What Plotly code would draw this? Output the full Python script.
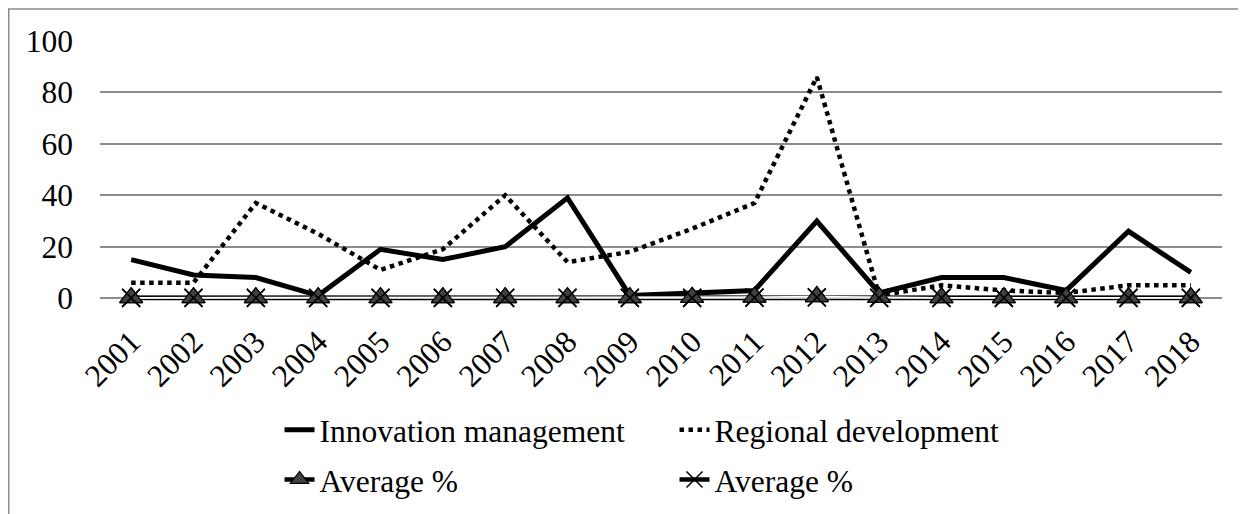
import plotly.graph_objects as go

years = [str(y) for y in range(2001, 2019)]
innovation = [15, 9, 8, 1, 19, 15, 20, 39, 1, 2, 3, 30, 2, 8, 8, 3, 26, 10]
regional = [6, 6, 37, 25, 11, 19, 40, 14, 18, 27, 37, 86, 1, 5, 3, 2, 5, 5]
avg_tri = [0.2, 0.2, 0.2, 0.2, 0.2, 0.2, 0.2, 0.2, 0.2, 0.3, 0.4, 0.6, 0.3, 0.2, 0.2, 0.2, 0.2, 0.2]
avg_x = [0.1, 0.1, 0.1, 0.1, 0.1, 0.1, 0.1, 0.1, 0.1, 0.1, 0.2, 0.3, 0.1, 0.1, 0.1, 0.1, 0.1, 0.1]
y_ticks = [0, 20, 40, 60, 80, 100]

FONT = "Liberation Serif"
FS = 31.5

TRI = dict(symbol="triangle-up", size=20, color="#404040", line=dict(color="black", width=1.2))
XM = dict(symbol="x-thin", size=18, color="black", line=dict(color="black", width=1.5))

fig = go.Figure()

fig.add_trace(go.Scatter(x=years, y=innovation, mode="lines", name="Innovation management",
                         line=dict(color="black", width=5), legend="legend", cliponaxis=False))
fig.add_trace(go.Scatter(x=years, y=regional, mode="lines", name="Regional development",
                         line=dict(color="black", width=4.5, dash="dot"), legend="legend", cliponaxis=False))

# Average % series: black outer line (legend entries)
fig.add_trace(go.Scatter(x=years, y=avg_tri, mode="lines+markers", name="Average %",
                         line=dict(color="black", width=4.5), marker=TRI,
                         legend="legend2", cliponaxis=False))
fig.add_trace(go.Scatter(x=years, y=avg_x, mode="lines+markers", name="Average %",
                         line=dict(color="black", width=4.5), marker=XM,
                         legend="legend2", cliponaxis=False))
# white inner lines (double-line look)
fig.add_trace(go.Scatter(x=years, y=avg_tri, mode="lines", showlegend=False,
                         line=dict(color="white", width=1.5), cliponaxis=False))
fig.add_trace(go.Scatter(x=years, y=avg_x, mode="lines", showlegend=False,
                         line=dict(color="white", width=1.5), cliponaxis=False))
# markers on top
fig.add_trace(go.Scatter(x=years, y=avg_tri, mode="markers", showlegend=False,
                         marker=TRI, cliponaxis=False))
fig.add_trace(go.Scatter(x=years, y=avg_x, mode="markers", showlegend=False,
                         marker=XM, cliponaxis=False))

# page body has an 8px default margin, so the figure is 8px smaller and shifted
W, H = 1238, 506
L, T, R = 92, 33, 24
PH = 261
B = H - T - PH
PW = W - L - R

fig.update_layout(
    width=W, height=H,
    margin=dict(l=L, r=R, t=T, b=B, autoexpand=False),
    paper_bgcolor="white", plot_bgcolor="white",
    font=dict(family=FONT, size=FS, color="black"),
    xaxis=dict(type="category", range=[-0.5, 17.5], tickangle=-45, showgrid=False, zeroline=False,
               showline=False, ticks="", ticklabelstandoff=14, automargin=False,
               tickfont=dict(family=FONT, size=FS)),
    yaxis=dict(range=[-1.5, 100], tickvals=y_ticks, showgrid=True, gridcolor="#8c8c8c",
               gridwidth=1.5, zeroline=True, zerolinecolor="#8c8c8c", zerolinewidth=1.5,
               showline=False, ticks="", ticklabelstandoff=26, automargin=False,
               tickfont=dict(family=FONT, size=FS)),
    legend=dict(orientation="h", x=0.16, xanchor="left", y=-0.49, yanchor="middle",
                entrywidth=350, entrywidthmode="pixels", font=dict(family=FONT, size=FS),
                bgcolor="rgba(0,0,0,0)", itemwidth=30, tracegroupgap=0),
    legend2=dict(orientation="h", x=0.16, xanchor="left", y=-0.68, yanchor="middle",
                 entrywidth=350, entrywidthmode="pixels", font=dict(family=FONT, size=FS),
                 bgcolor="rgba(0,0,0,0)", itemwidth=30, tracegroupgap=0),
    shapes=[dict(type="rect", xref="paper", yref="paper",
                 x0=(0.75 - L) / PW, x1=(W + 10 - L) / PW,
                 y0=-(B + 10) / PH, y1=(PH + T - 1) / PH,
                 line=dict(color="#8c8c8c", width=1.5), fillcolor="rgba(0,0,0,0)", layer="below")],
    showlegend=True,
)

fig.write_html("out.html")
